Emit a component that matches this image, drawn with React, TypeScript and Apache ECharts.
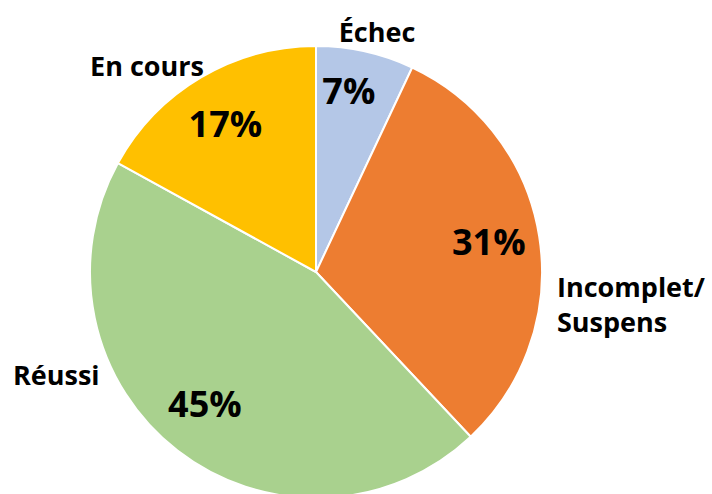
import React, { useEffect, useRef } from "react";
import * as echarts from "echarts";

const categories = ["Échec", "Incomplet/\nSuspens", "Réussi", "En cours"];
const values = [7, 31, 45, 17];
const colors = ["#B4C7E7", "#ED7D31", "#A9D18E", "#FFC000"];

// label anchor placement (layout only)
const nameAnchors = [
  { x: 377, y: 31, align: "center" },
  { x: 557, y: 304, align: "left" },
  { x: 13, y: 374, align: "left" },
  { x: 204, y: 65, align: "right" },
];
const pctShift = [
  { dx: -6, dy: -8 },
  { dx: -3, dy: -3 },
  { dx: -2, dy: -9 },
  { dx: 0, dy: 5 },
];

export default function App() {
  const ref = useRef<HTMLDivElement>(null);
  useEffect(() => {
    if (!ref.current) return;
    const chart = echarts.init(ref.current, null, { renderer: "svg" });
    const data = categories.map((name, i) => ({
      name,
      value: values[i],
      itemStyle: { color: colors[i] },
    }));
    chart.setOption({
      animation: false,
      backgroundColor: "#ffffff",
      series: [
        {
          type: "pie",
          center: [316, 272],
          radius: 226,
          startAngle: 90,
          clockwise: true,
          percentPrecision: 0,
          data,
          itemStyle: { borderColor: "#ffffff", borderWidth: 2 },
          label: {
            show: true,
            position: "outside",
            formatter: "{b}",
            fontFamily: "Open Sans",
            fontWeight: "bold",
            fontSize: 27,
            lineHeight: 35,
            color: "#000000",
            overflow: "none",
            width: 300,
          },
          labelLine: { show: false, length: 10, length2: 10 },
          labelLayout: (p: any) => {
            const a = nameAnchors[p.dataIndex];
            return { x: a.x, y: a.y, align: a.align, verticalAlign: "middle" };
          },
        },
        {
          type: "pie",
          center: [316, 272],
          radius: [124, 226],
          startAngle: 90,
          clockwise: true,
          percentPrecision: 0,
          silent: true,
          data: data.map((d) => ({ ...d, itemStyle: { color: "transparent" } })),
          label: {
            show: true,
            position: "inside",
            formatter: "{d}%",
            fontFamily: "Open Sans",
            fontWeight: "bold",
            fontSize: 36,
            color: "#000000",
          },
          labelLine: { show: false },
          labelLayout: (p: any) => pctShift[p.dataIndex],
        },
      ],
    });
    return () => chart.dispose();
  }, []);
  return (
    <div
      ref={ref}
      style={{ position: "fixed", left: 0, top: 0, width: 712, height: 494 }}
    />
  );
}
